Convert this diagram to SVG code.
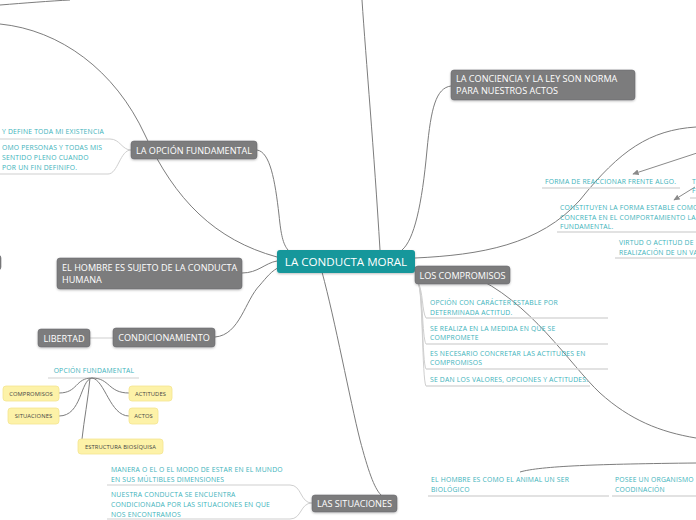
<svg xmlns="http://www.w3.org/2000/svg" width="696" height="520" viewBox="0 0 696 520">
<defs>
<style>
.bg{fill:#ffffff}
.gn rect{fill:#7b7b7d;stroke:#6c6c6e;stroke-width:0.6}
.gn text{fill:#ffffff;font-family:"Open Sans","DejaVu Sans",sans-serif;font-size:9.1px}
.cn rect{fill:#16979b}
.cn text{fill:#ffffff;font-family:"Open Sans","DejaVu Sans",sans-serif;font-size:11.6px}
.yn rect{fill:#fdf2a8;stroke:#f4e48f;stroke-width:0.8}
.yn text{fill:#444;font-family:"Open Sans","DejaVu Sans",sans-serif;font-size:5.8px;letter-spacing:0.1px}
.tt{fill:#3db3bb;font-family:"Open Sans","DejaVu Sans",sans-serif;font-size:6.8px;letter-spacing:0.2px}
.c{fill:none;stroke:#7d7d7d;stroke-width:1}
.l{fill:none;stroke:#cfcfcf;stroke-width:1}
.u{fill:none;stroke:#d9d9d9;stroke-width:1.4}
.a{fill:none;stroke:#8a8a8a;stroke-width:1;marker-end:url(#ar)}
</style>
<marker id="ar" viewBox="0 0 10 10" refX="8" refY="5" markerWidth="7" markerHeight="7" orient="auto-start-reverse">
<path d="M0,1 L9,5 L0,9 z" fill="#8a8a8a"/>
</marker>
<filter id="sh" x="-10%" y="-20%" width="120%" height="150%">
<feDropShadow dx="0" dy="1" stdDeviation="0.8" flood-color="#000" flood-opacity="0.25"/>
</filter>
</defs>
<rect class="bg" x="0" y="0" width="696" height="520"/>

<g id="connectors">
<path class="c" d="M0 5 C 25 3, 50 1, 70 0"/>
<path class="c" d="M277 257 C 215 240, 175 200, 145 135 C 115 70, 60 30, 0 24"/>
<path class="c" d="M380 250 C 374 150, 366 60, 362 0"/>
<path class="c" d="M451 86 C 436 88, 431 108, 427 150 C 422 205, 414 240, 402 250"/>
<path class="c" d="M257 150 C 270 152, 275 180, 279 215 C 281 235, 283 244, 288 250"/>
<path class="c" d="M415 258 C 480 255, 540 245, 580 200 C 620 150, 650 130, 696 127"/>
<path class="c" d="M242 273 C 258 273, 265 263, 277 261"/>
<path class="c" d="M215 337 C 240 335, 245 300, 260 285 C 266 278, 272 270, 280 267"/>
<path class="l" d="M90 338 L 113 338"/>
<path class="c" d="M322 272 C 335 320, 350 400, 360 440 C 368 470, 374 488, 381 495"/>
<path class="c" d="M470 275 C 530 300, 570 365, 600 393 C 630 420, 660 432, 696 438"/>
<path class="c" d="M410 266 L 418 268"/>
<path class="c" d="M520 472 C 540 466, 600 464, 696 463"/>
<path class="a" d="M697 153 L 633 174"/>
<path class="a" d="M695 187 L 674 200"/>
<!-- opcion fundamental children -->
<path class="l" d="M0 139 L 110 139 C 120 139, 122 150, 131 150"/>
<path class="l" d="M0 174 L 108 174 C 118 174, 120 150, 131 150"/>
<!-- los compromisos children -->
<path class="l" d="M418 283 C 423 290, 422 312, 426 318"/>
<path class="l" d="M418 283 C 423 290, 422 338, 426 344"/>
<path class="l" d="M418 283 C 423 290, 422 363, 426 369"/>
<path class="l" d="M418 283 C 423 290, 422 380, 426 386"/>
<path class="u" d="M426 318 L 608 318 M426 344 L 608 344 M426 369 L 608 369 M426 386 L 590 386"/>
<!-- las situaciones children -->
<path class="l" d="M312 503 C 300 503, 302 485, 290 485 L 107 485"/>
<path class="l" d="M312 503 C 300 503, 302 519, 290 519 L 107 519"/>
<!-- right underlines -->
<path class="u" d="M542 188 L 680 188 M690 198 L 696 198 M557 232 L 696 232 M615 258 L 696 258 M428 496 L 609 496 M612 496 L 696 496"/>
<!-- opcion fundamental sub map -->
<path class="l" d="M48 378 L 139 378"/>
<path class="c" d="M92 378 C 75 378, 78 393, 59 393"/>
<path class="c" d="M92 378 C 80 380, 82 416, 59 416"/>
<path class="c" d="M92 378 C 110 378, 108 393, 129 393"/>
<path class="c" d="M92 378 C 105 380, 110 416, 129 416"/>
<path class="c" d="M90 378 C 88 400, 84 420, 82 439"/>
</g>

<g id="n-center" class="cn"><rect x="277" y="250" width="138" height="23" rx="3" filter="url(#sh)"/><text x="346" y="265.5" text-anchor="middle">LA CONDUCTA MORAL</text></g>
<g id="n-compromisos" class="gn"><rect x="415" y="266" width="95" height="18" rx="3" filter="url(#sh)"/><text x="462.5" y="278.5" text-anchor="middle">LOS COMPROMISOS</text></g>
<g id="n-opcion" class="gn"><rect x="131" y="141" width="126" height="18" rx="3" filter="url(#sh)"/><text x="194" y="153.5" text-anchor="middle">LA OPCIÓN FUNDAMENTAL</text></g>
<g id="n-hombre" class="gn"><rect x="57" y="258" width="185" height="31" rx="3" filter="url(#sh)"/><text x="62" y="270.5">EL HOMBRE ES SUJETO DE LA CONDUCTA</text><text x="62" y="283">HUMANA</text></g>
<g id="n-condicionamiento" class="gn"><rect x="113" y="328" width="102" height="19" rx="3" filter="url(#sh)"/><text x="164" y="341" text-anchor="middle">CONDICIONAMIENTO</text></g>
<g id="n-libertad" class="gn"><rect x="38" y="329" width="52" height="18" rx="3" filter="url(#sh)"/><text x="64" y="341.5" text-anchor="middle">LIBERTAD</text></g>
<g id="n-conciencia" class="gn"><rect x="451" y="70" width="184" height="30" rx="3" filter="url(#sh)"/><text x="456" y="82">LA CONCIENCIA Y LA LEY SON NORMA</text><text x="456" y="94">PARA NUESTROS ACTOS</text></g>
<g id="n-situaciones" class="gn"><rect x="312" y="495" width="85" height="17" rx="3" filter="url(#sh)"/><text x="354.5" y="507" text-anchor="middle">LAS SITUACIONES</text></g>
<g id="n-left-edge" class="gn"><rect x="-20" y="255" width="21" height="15" rx="3"/></g>

<g id="n-of-title"><text class="tt" x="94" y="373" text-anchor="middle">OPCIÓN FUNDAMENTAL</text></g>
<g id="n-y-compromisos" class="yn"><rect x="3" y="386" width="56" height="15" rx="3"/><text x="31" y="395.5" text-anchor="middle">COMPROMISOS</text></g>
<g id="n-y-situaciones" class="yn"><rect x="8" y="408" width="51" height="16" rx="3"/><text x="33.5" y="418" text-anchor="middle">SITUACIONES</text></g>
<g id="n-y-actitudes" class="yn"><rect x="129" y="386" width="43" height="15" rx="3"/><text x="150.5" y="395.5" text-anchor="middle">ACTITUDES</text></g>
<g id="n-y-actos" class="yn"><rect x="129" y="408" width="29" height="16" rx="3"/><text x="143.5" y="418" text-anchor="middle">ACTOS</text></g>
<g id="n-y-estructura" class="yn"><rect x="78" y="439" width="85" height="15" rx="3"/><text x="120.5" y="448.5" text-anchor="middle">ESTRUCTURA BIOSÍQUISA</text></g>

<g id="n-t1"><text class="tt" x="2" y="134">Y DEFINE TODA MI EXISTENCIA</text></g>
<g id="n-t2"><text class="tt" x="2" y="150">OMO PERSONAS Y TODAS MIS</text><text class="tt" x="2" y="160">SENTIDO PLENO CUANDO</text><text class="tt" x="2" y="170">POR UN FIN DEFINIFO.</text></g>
<g id="n-t3"><text class="tt" x="545" y="184">FORMA DE REACCIONAR FRENTE ALGO.</text></g>
<g id="n-t4"><text class="tt" x="692" y="184">T</text><text class="tt" x="692" y="193">F</text></g>
<g id="n-t5"><text class="tt" x="560" y="210">CONSTITUYEN LA FORMA ESTABLE COMO</text><text class="tt" x="560" y="219.5">CONCRETA EN EL COMPORTAMIENTO LA</text><text class="tt" x="560" y="229">FUNDAMENTAL.</text></g>
<g id="n-t6"><text class="tt" x="619" y="245">VIRTUD O ACTITUD DE</text><text class="tt" x="619" y="254.5">REALIZACIÓN DE UN VA</text></g>
<g id="n-t7"><text class="tt" x="430" y="305">OPCIÓN CON CARÁCTER ESTABLE POR</text><text class="tt" x="430" y="314.5">DETERMINADA ACTITUD.</text></g>
<g id="n-t8"><text class="tt" x="430" y="330.5">SE REALIZA EN LA MEDIDA EN QUE SE</text><text class="tt" x="430" y="340">COMPROMETE</text></g>
<g id="n-t9"><text class="tt" x="430" y="355.5">ES NECESARIO CONCRETAR LAS ACTITUDES EN</text><text class="tt" x="430" y="365">COMPROMISOS</text></g>
<g id="n-t10"><text class="tt" x="430" y="381.5">SE DAN LOS VALORES, OPCIONES Y ACTITUDES.</text></g>
<g id="n-t11"><text class="tt" x="431" y="482">EL HOMBRE ES COMO EL ANIMAL UN SER</text><text class="tt" x="431" y="492">BIOLÓGICO</text></g>
<g id="n-t12"><text class="tt" x="615" y="482">POSEE UN ORGANISMO</text><text class="tt" x="615" y="492">COODINACIÓN</text></g>
<g id="n-t13"><text class="tt" x="111" y="472">MANERA O EL O EL MODO DE ESTAR EN EL MUNDO</text><text class="tt" x="111" y="481.5">EN SUS MÚLTIBLES DIMENSIONES</text></g>
<g id="n-t14"><text class="tt" x="111" y="496.5">NUESTRA CONDUCTA SE ENCUENTRA</text><text class="tt" x="111" y="507">CONDICIONADA POR LAS SITUACIONES EN QUE</text><text class="tt" x="111" y="516.5">NOS ENCONTRAMOS</text></g>
</svg>
